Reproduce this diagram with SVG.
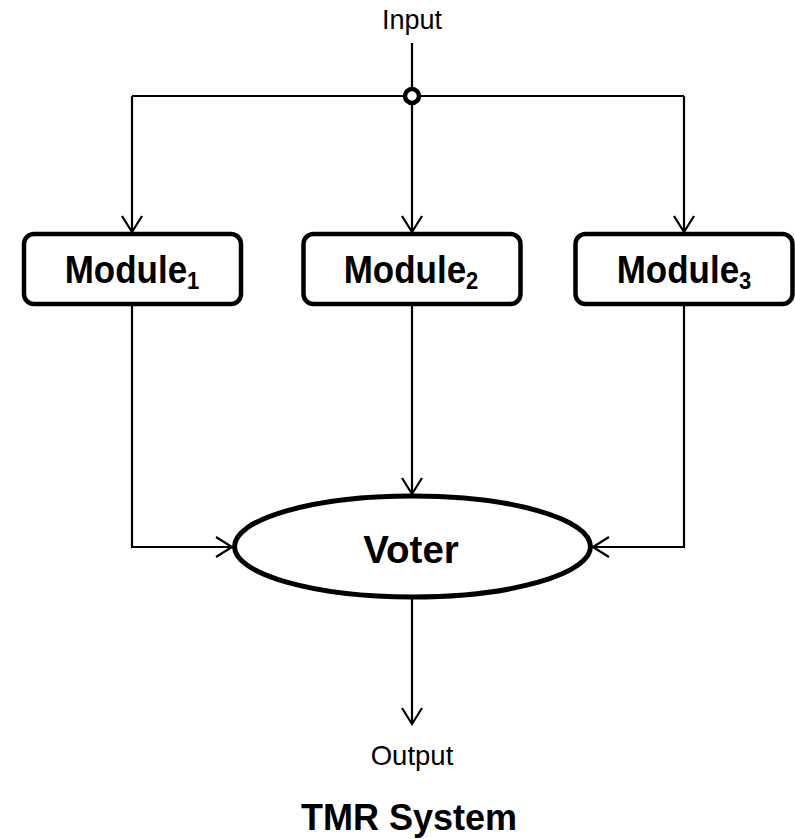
<svg xmlns="http://www.w3.org/2000/svg" width="795" height="839" viewBox="0 0 795 839">
<style>
.conn{fill:none;stroke:#000;stroke-width:2.2}
.box{fill:#fff;stroke:#000;stroke-width:4.5}
.lbl{font-family:"Liberation Sans",Arial,sans-serif;fill:#000;text-anchor:middle}
.b{font-weight:bold}
</style>
<defs>
<marker id="arr" markerUnits="userSpaceOnUse" viewBox="-20 -14 24 28" refX="0" refY="0" markerWidth="24" markerHeight="28" orient="auto" overflow="visible">
<path d="M-16,-10 L0,0 L-16,10" fill="none" stroke="#000" stroke-width="2.2"/>
</marker>
</defs>
<rect width="795" height="839" fill="#fff"/>
<g id="connectors">
<line class="conn" x1="412" y1="43" x2="412" y2="89"/>
<polyline class="conn" points="132,96 684,96"/>
<polyline class="conn" points="132,96 132,232" marker-end="url(#arr)"/>
<polyline class="conn" points="412,103 412,232" marker-end="url(#arr)"/>
<polyline class="conn" points="684,96 684,232" marker-end="url(#arr)"/>
<polyline class="conn" points="132,306 132,547 232,547" marker-end="url(#arr)"/>
<polyline class="conn" points="412,306 412,494" marker-end="url(#arr)"/>
<polyline class="conn" points="684,306 684,547 593,547" marker-end="url(#arr)"/>
<polyline class="conn" points="412,599 412,724" marker-end="url(#arr)"/>
</g>
<g id="junction">
<circle cx="412" cy="96" r="7" fill="#fff" stroke="#000" stroke-width="4.5"/>
</g>
<g id="input">
<text class="lbl" x="412" y="29" font-size="27">Input</text>
</g>
<g id="module1">
<rect class="box" x="24" y="234" width="217" height="70" rx="10"/>
<text class="lbl b" transform="translate(132,283) scale(1,1.12)" font-size="35">Module<tspan font-size="22" dy="5">1</tspan></text>
</g>
<g id="module2">
<rect class="box" x="303.5" y="234" width="217" height="70" rx="10"/>
<text class="lbl b" transform="translate(411,283) scale(1,1.12)" font-size="35">Module<tspan font-size="22" dy="5">2</tspan></text>
</g>
<g id="module3">
<rect class="box" x="575.5" y="234" width="217" height="70" rx="10"/>
<text class="lbl b" transform="translate(684,283) scale(1,1.12)" font-size="35">Module<tspan font-size="22" dy="5">3</tspan></text>
</g>
<g id="voter">
<ellipse cx="412.5" cy="546.5" rx="178" ry="50.5" fill="#fff" stroke="#000" stroke-width="5"/>
<text class="lbl b" x="411" y="563" font-size="38.5">Voter</text>
</g>
<g id="output">
<text class="lbl" x="412" y="765" font-size="27.5">Output</text>
</g>
<g id="title">
<text class="lbl b" x="409" y="830" font-size="36">TMR System</text>
</g>
</svg>
